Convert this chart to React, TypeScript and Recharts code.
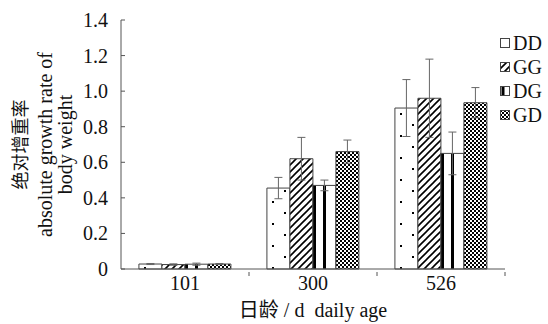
import { BarChart, Bar, XAxis, YAxis, ErrorBar, Legend } from 'recharts';

const ages = ['101', '300', '526'];
const groups = ['DD', 'GG', 'DG', 'GD'];
const ddValues = [0.028, 0.455, 0.905];
const ddErrors = [0.003, 0.06, 0.16];
const ggValues = [0.025, 0.62, 0.96];
const ggErrors = [0.004, 0.12, 0.22];
const dgValues = [0.027, 0.47, 0.65];
const dgErrors = [0.006, 0.03, 0.12];
const gdValues = [0.028, 0.66, 0.935];
const gdErrors = [0.003, 0.065, 0.085];
const yTicks = [0, 0.2, 0.4, 0.6, 0.8, 1.0, 1.2, 1.4];

const data = ages.map((age, i) => ({
  age,
  DD: ddValues[i],
  DDerr: ddErrors[i],
  GG: ggValues[i],
  GGerr: ggErrors[i],
  DG: dgValues[i],
  DGerr: dgErrors[i],
  GD: gdValues[i],
  GDerr: gdErrors[i],
}));

const SERIF = "'Liberation Serif', 'Noto Sans CJK SC', serif";
const AXIS = '#555';
const fills: Record<string, string> = {
  DD: 'url(#pat-dd)',
  GG: 'url(#pat-gg)',
  DG: 'url(#pat-dg)',
  GD: 'url(#pat-gd)',
};
const legendFills: Record<string, string> = {
  DD: '#fff',
  GG: 'url(#pat-gg)',
  DG: 'url(#pat-dg-small)',
  GD: 'url(#pat-gd)',
};

// dot / stripe tiles repeat once per category so they line up inside each bar
function Patterns() {
  return (
    <svg width={0} height={0} style={{ position: 'absolute' }}>
      <defs>
        <pattern id="pat-dd" patternUnits="userSpaceOnUse" width={128} height={22}>
          <rect width={128} height={22} fill="#fff" />
          <rect x={16} y={3} width={2} height={2} fill="#000" />
          <rect x={28} y={14} width={2} height={2} fill="#000" />
        </pattern>
        <pattern id="pat-gg" patternUnits="userSpaceOnUse" width={7} height={7}>
          <rect width={7} height={7} fill="#fff" />
          <path d="M-1,8 L8,-1 M-1,1 L1,-1 M6,8 L8,6" stroke="#000" strokeWidth={1.6} />
        </pattern>
        <pattern id="pat-dg" patternUnits="userSpaceOnUse" width={128} height={10}>
          <rect width={128} height={10} fill="#fff" />
          <rect x={57} y={0} width={3} height={10} fill="#000" />
          <rect x={67} y={0} width={3} height={10} fill="#000" />
        </pattern>
        <pattern id="pat-dg-small" patternUnits="objectBoundingBox" width={1} height={1}>
          <rect width={10} height={10} fill="#fff" />
          <rect x={1} y={0} width={3} height={10} fill="#000" />
        </pattern>
        <pattern id="pat-gd" patternUnits="userSpaceOnUse" width={4} height={4}>
          <rect width={4} height={4} fill="#fff" />
          <rect x={0} y={0} width={2} height={2} fill="#000" />
          <rect x={2} y={2} width={2} height={2} fill="#000" />
        </pattern>
      </defs>
    </svg>
  );
}

function YTick({ x, y, payload }: any) {
  const v = payload.value as number;
  return (
    <g>
      <line x1={x + 15} y1={y} x2={x + 19} y2={y} stroke={AXIS} />
      <text x={x + 2} y={y} dy={7} textAnchor="end" fontFamily={SERIF} fontSize={20} fill="#111">
        {v === 0 ? '0' : v.toFixed(1)}
      </text>
    </g>
  );
}

function XTick({ x, y, payload }: any) {
  const half = payload.offset || 64;
  return (
    <g>
      <line x1={x + half} y1={y - 1} x2={x + half} y2={y - 5} stroke={AXIS} />
      <text x={x} y={y} dy={13} textAnchor="middle" fontFamily={SERIF} fontSize={20} fill="#111">
        {payload.value}
      </text>
    </g>
  );
}

function YLabel({ viewBox }: any) {
  const cy = viewBox.y + viewBox.height / 2;
  const lines = [
    { x: 21, t: '绝对增重率', size: 18 },
    { x: 45, t: 'absolute growth rate of', size: 20 },
    { x: 65, t: 'body weight', size: 20 },
  ];
  return (
    <g>
      {lines.map((l) => (
        <text
          key={l.t}
          x={l.x}
          y={cy}
          transform={`rotate(-90 ${l.x} ${cy})`}
          textAnchor="middle"
          dominantBaseline="central"
          fontFamily={SERIF}
          fontSize={l.size}
          fill="#111"
        >
          {l.t}
        </text>
      ))}
    </g>
  );
}

function XLabel({ viewBox }: any) {
  return (
    <text
      x={viewBox.x + viewBox.width / 2}
      y={viewBox.y + 48}
      textAnchor="middle"
      fontFamily={SERIF}
      fontSize={20}
      fill="#111"
      xmlSpace="preserve"
    >
      日龄 / d  daily age
    </text>
  );
}

function LegendBox() {
  return (
    <div style={{ fontFamily: SERIF, fontSize: 20, color: '#111', lineHeight: 1 }}>
      {groups.map((g) => (
        <div key={g} style={{ display: 'flex', alignItems: 'center', height: 24 }}>
          <svg width={11} height={11} style={{ marginRight: 2 }}>
            <rect x={0.5} y={0.5} width={9} height={9} fill={legendFills[g]} stroke="#444" />
          </svg>
          <span>{g}</span>
        </div>
      ))}
    </div>
  );
}

export default function App() {
  return (
    <div style={{ position: 'absolute', left: 0, top: 0, width: 548, height: 324, background: '#fff' }}>
      <Patterns />
      <BarChart
        width={548}
        height={324}
        data={data}
        margin={{ top: 20, right: 43, left: 0, bottom: 0 }}
        barCategoryGap="14%"
        barGap={0}
      >
        <XAxis
          dataKey="age"
          height={55}
          stroke={AXIS}
          tickLine={false}
          tick={<XTick />}
          label={{ content: <XLabel /> }}
        />
        <YAxis
          width={121}
          domain={[0, 1.4]}
          ticks={yTicks}
          stroke={AXIS}
          tickLine={false}
          tickSize={0}
          tickMargin={15}
          tick={<YTick />}
          label={{ content: <YLabel /> }}
        />
        <Legend
          layout="horizontal"
          verticalAlign="middle"
          align="center"
          content={<LegendBox />}
          wrapperStyle={{ position: 'absolute', left: 500, top: 31, width: 48 }}
        />
        {groups.map((g) => (
          <Bar key={g} dataKey={g} fill={fills[g]} stroke="#444" strokeWidth={1} isAnimationActive={false}>
            <ErrorBar dataKey={`${g}err`} width={4} stroke="#666" strokeWidth={1} />
          </Bar>
        ))}
      </BarChart>
    </div>
  );
}
